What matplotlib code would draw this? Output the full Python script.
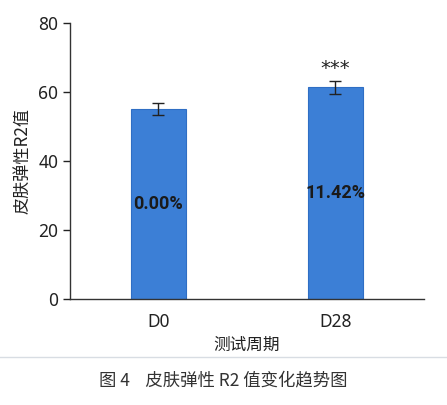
import matplotlib
matplotlib.use("Agg")
import matplotlib.pyplot as plt

categories = ["D0", "D28"]
values = [55.0, 61.4]
errors = [1.7, 1.9]
pct_labels = ["0.00%", "11.42%"]
sig_labels = ["", "***"]
yticks = [0, 20, 40, 60, 80]

plt.rcParams['font.family'] = ['Noto Sans', 'Noto Sans CJK SC', 'DejaVu Sans']

fig = plt.figure(figsize=(4.47, 4.05), dpi=100)
ax = fig.add_axes([0.1566, 0.2617, 0.7919, 0.6813])

x = list(range(len(categories)))
ax.bar(x, values, width=0.31, color='#3c7fd6', edgecolor='#2f6ec4', linewidth=0.8,
       yerr=errors, capsize=4, error_kw=dict(ecolor='#222222', elinewidth=1.0, capthick=1.0))

for xi, v, lab in zip(x, values, pct_labels):
    ax.text(xi, v / 2, lab, ha='center', va='center', fontsize=13, fontweight='bold', color='#1a1a1a',
            family=['Roboto', 'DejaVu Sans'])
for xi, v, e, s in zip(x, values, errors, sig_labels):
    if s:
        ax.text(xi, v + e + 0.8, s, ha='center', va='bottom', fontsize=14, color='#222222',
                family=['DejaVu Sans'])

ax.set_xlim(-0.5, 1.5)
ax.set_ylim(0, 80)
ax.set_yticks(yticks)
ax.set_xticks(x)
ax.set_xticklabels(categories, fontsize=12.5, color='#222222')
ax.tick_params(axis='y', labelsize=12.5, colors='#222222', length=5, width=1)
ax.tick_params(axis='x', length=0, pad=10)
for sp in ['top', 'right']:
    ax.spines[sp].set_visible(False)
for sp in ['left', 'bottom']:
    ax.spines[sp].set_color('#333333')
    ax.spines[sp].set_linewidth(1.0)

ax.set_ylabel("皮肤弹性R2值", fontsize=12.3, color='#222222', family=['Noto Sans CJK SC', 'DejaVu Sans'], labelpad=5)
ax.set_xlabel("测试周期", fontsize=12, color='#222222', family=['Noto Sans CJK SC', 'DejaVu Sans'], labelpad=4)

fig.add_artist(plt.Line2D([0.0, 1.0], [1 - 357/405, 1 - 357/405], color='#d8dde3', linewidth=1.0))
fig.text(0.5, 1 - 380/405, "图 4    皮肤弹性 R2 值变化趋势图", ha='center', va='center', fontsize=12.5,
         color='#333333', family=['Noto Sans CJK SC', 'DejaVu Sans'])

fig.savefig("out.png", dpi=100)
